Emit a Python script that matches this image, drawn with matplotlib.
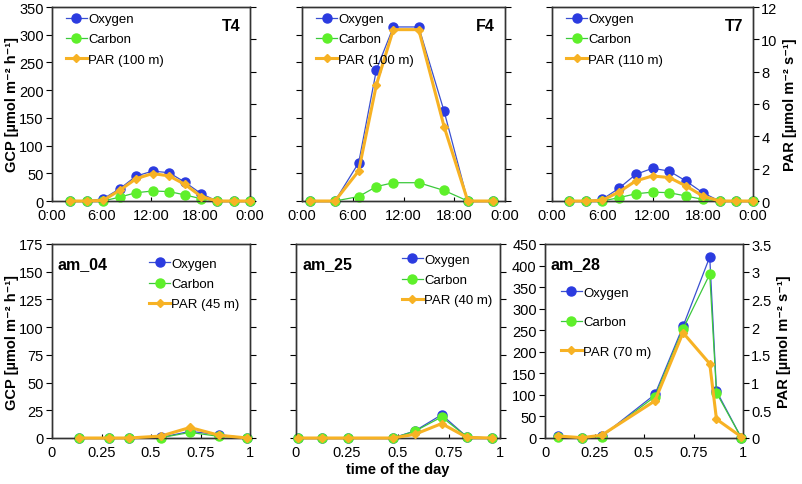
import numpy as np
import matplotlib.pyplot as plt
from matplotlib.lines import Line2D

plt.rcParams['font.family'] = ['Liberation Sans', 'DejaVu Sans']

# ---- data ----
# top row: time in hours
t_T4 = [2.2, 4.2, 6.2, 8.2, 10.2, 12.2, 14.2, 16.1, 18.1, 20.0, 22.1, 24.0]
oxy_T4 = [0, 0, 4, 22, 45, 54, 51, 34, 13, 0, 0, 0]
car_T4 = [0, 0, 0, 7, 15, 18, 17, 11, 4, 0, 0, 0]
par_T4 = [0, 0, 0.04, 0.66, 1.38, 1.70, 1.55, 1.03, 0.27, 0, 0, 0]

t_F4 = [0.9, 3.9, 6.7, 8.8, 10.8, 13.8, 16.8, 19.6, 22.6]
oxy_F4 = [0, 0, 69, 237, 314, 314, 162, 0, 0]
car_F4 = [0, 0, 8, 26, 33, 33, 19, 0, 0]
par_F4 = [0, 0, 1.86, 7.2, 10.6, 10.6, 4.6, 0, 0]

t_T7 = [2, 4, 6, 8, 10, 12, 14, 16, 18, 20, 22, 24]
oxy_T7 = [0, 0, 3, 23, 48, 59, 54, 36, 15, 0, 0, 0]
car_T7 = [0, 0, 0, 6, 13, 16, 15, 9, 3, 0, 0, 0]
par_T7 = [0, 0, 0.04, 0.56, 1.24, 1.55, 1.45, 0.93, 0.31, 0, 0, 0]

# bottom row: fraction of the day
t_am04 = [0.134, 0.286, 0.39, 0.55, 0.697, 0.843, 0.986]
oxy_am04 = [0, 0, 0, 0.5, 6, 3, 0]
car_am04 = [0, 0, 0, 0.3, 5, 1.5, 0]
par_am04 = [0, 0, 0, 0.035, 0.19, 0.05, 0]

t_am25 = [0.012, 0.127, 0.254, 0.474, 0.582, 0.714, 0.838, 0.962]
oxy_am25 = [0, 0, 0, 0, 6.3, 21, 1, 0]
car_am25 = [0, 0, 0, 0, 6, 19, 1, 0]
par_am25 = [0, 0, 0, 0, 0.066, 0.26, 0.01, 0]

t_am28 = [0.067, 0.185, 0.286, 0.555, 0.697, 0.832, 0.866, 0.992]
oxy_am28 = [4, 1, 4, 101, 259, 420, 109, 0]
car_am28 = [3, 1, 3, 96, 253, 380, 105, 0]
par_am28 = [0.036, 0.006, 0.05, 0.67, 1.9, 1.34, 0.34, 0.02]

hour_ticks = [0, 6, 12, 18, 24]
hour_labels = ['0:00', '6:00', '12:00', '18:00', '0:00']
frac_ticks = [0, 0.25, 0.5, 0.75, 1]
frac_labels = ['0', '0.25', '0.5', '0.75', '1']

panels = [
    # name, t, oxy, car, par, par depth, pixel box (l, r, top, bottom), row
    ('T4', t_T4, oxy_T4, car_T4, par_T4, '100 m', (52, 250, 8, 202), 0),
    ('F4', t_F4, oxy_F4, car_F4, par_F4, '100 m', (302, 505, 8, 202), 0),
    ('T7', t_T7, oxy_T7, car_T7, par_T7, '110 m', (552, 753, 8, 202), 0),
    ('am_04', t_am04, oxy_am04, car_am04, par_am04, '45 m', (52, 250, 245, 439), 1),
    ('am_25', t_am25, oxy_am25, car_am25, par_am25, '40 m', (296, 500, 245, 439), 1),
    ('am_28', t_am28, oxy_am28, car_am28, par_am28, '70 m', (545, 743, 245, 439), 1),
]

W, H = 802, 485
fig = plt.figure(figsize=(W / 100, H / 100), dpi=100)

c_oxy = '#2b3be0'
c_oxy_line = '#3a50d0'
c_car = '#5ef02a'
c_car_line = '#3cc83c'
c_par = '#f7b224'

fs = 10.5
gcp_label = 'GCP [µmol m⁻² h⁻¹]'
par_label = 'PAR [µmol m⁻² s⁻¹]'

for i, (name, t, oxy, car, par, depth, box, row) in enumerate(panels):
    l, r, top, bot = box
    ax = fig.add_axes([l / W, 1 - bot / H, (r - l) / W, (bot - top) / H])
    ax2 = ax.twinx()

    ax.plot(t, oxy, '-o', color=c_oxy_line, mfc=c_oxy, mec=c_oxy, lw=0.9, ms=6.5,
            clip_on=False, zorder=3)
    ax.plot(t, car, '-o', color=c_car_line, mfc=c_car, mec=c_car, lw=0.9, ms=6.5,
            clip_on=False, zorder=4)
    ax2.plot(t, par, '-D', color=c_par, mfc=c_par, mec=c_par, lw=2.2, ms=4,
             clip_on=False, zorder=5)

    if row == 0:
        ax.set_xlim(0, 24)
        ax.set_xticks(hour_ticks)
        ax.set_xticklabels(hour_labels)
        ax.set_ylim(0, 350)
        ax.set_yticks(np.arange(0, 351, 50))
        ax2.set_ylim(0, 12)
        ax2.set_yticks(np.arange(0, 13, 2))
    else:
        ax.set_xlim(0, 1)
        ax.set_xticks(frac_ticks)
        ax.set_xticklabels(frac_labels)
        if name == 'am_28':
            ax.set_ylim(0, 450)
            ax.set_yticks(np.arange(0, 451, 50))
        else:
            ax.set_ylim(0, 175)
            ax.set_yticks(np.arange(0, 176, 25))
        ax2.set_ylim(0, 3.5)
        ax2.set_yticks(np.arange(0, 3.51, 0.5))
        ax2.set_yticklabels(['0', '0.5', '1', '1.5', '2', '2.5', '3', '3.5'])

    ax.tick_params(axis='x', direction='in', length=3, labelsize=fs, pad=5)
    ax.tick_params(axis='y', direction='out', length=4, labelsize=fs, pad=2)
    ax2.tick_params(axis='y', direction='out', length=4, labelsize=fs, pad=2)

    if i not in (0, 3, 5):
        ax.set_yticklabels([])
    if i not in (2, 5):
        ax2.set_yticklabels([])

    for a in (ax, ax2):
        for s in a.spines.values():
            s.set_color('#333333')
            s.set_linewidth(1.0)

    if i in (0, 3):
        ax.set_ylabel(gcp_label, fontsize=10.5, fontweight='bold', labelpad=0)
    if i in (2, 5):
        ax2.set_ylabel(par_label, fontsize=10.5, fontweight='bold', labelpad=4)
    if i == 4:
        ax.set_xlabel('time of the day', fontsize=fs, fontweight='bold', labelpad=2)

    if row == 0:
        ax.text(0.95, 0.905, name, transform=ax.transAxes, ha='right', va='center',
                fontsize=11.5, fontweight='bold')
    else:
        ax.text(0.03, 0.9, name, transform=ax.transAxes, ha='left', va='center',
                fontsize=11.5, fontweight='bold')

    handles = [
        Line2D([], [], color=c_oxy_line, marker='o', mfc=c_oxy, mec=c_oxy, lw=0.9, ms=6.5),
        Line2D([], [], color=c_car_line, marker='o', mfc=c_car, mec=c_car, lw=0.9, ms=6.5),
        Line2D([], [], color=c_par, marker='D', mfc=c_par, mec=c_par, lw=2.2, ms=4),
    ]
    labels = ['Oxygen', 'Carbon', f'PAR ({depth})']
    if row == 0:
        anchor, spacing = (0.03, 1.01), 0.6
    elif name == 'am_28':
        anchor, spacing = (0.04, 0.82), 1.3
    elif name == 'am_04':
        anchor, spacing = (0.45, 0.97), 0.6
    else:
        anchor, spacing = (0.48, 0.99), 0.6
    ax2.legend(handles, labels, loc='upper left', bbox_to_anchor=anchor, frameon=False,
               fontsize=9.5, handlelength=1.6, handletextpad=0.1, labelspacing=spacing,
               borderaxespad=0.2)

fig.savefig('out.png', dpi=100)
